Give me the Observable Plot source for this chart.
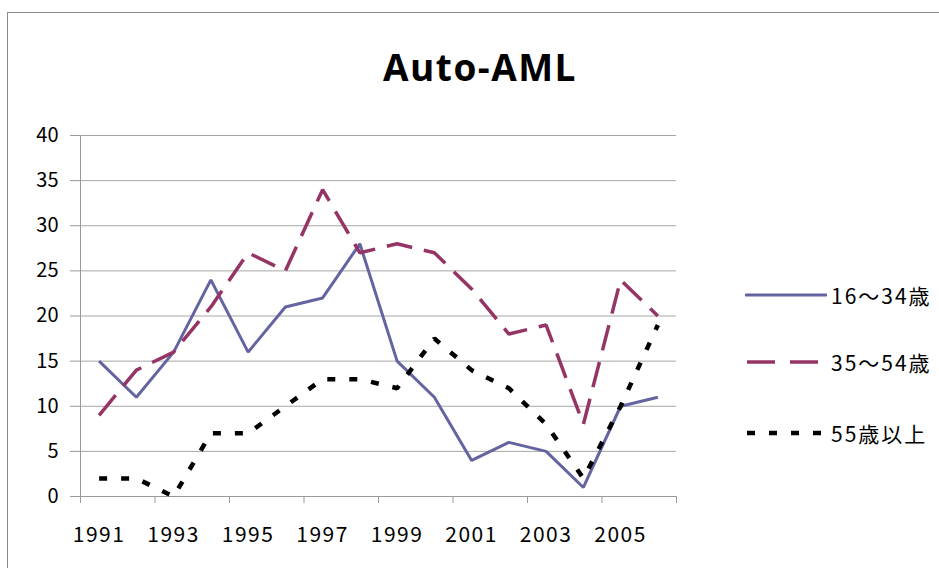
<!DOCTYPE html>
<html>
<head>
<meta charset="utf-8">
<script src="https://cdn.jsdelivr.net/npm/d3@7"></script>
<script src="https://cdn.jsdelivr.net/npm/@observablehq/plot@0.6"></script>
<style>
  html, body { margin: 0; padding: 0; background: #fff; }
  #wrap { position: relative; width: 939px; height: 568px; overflow: hidden; font-family: "Noto Sans CJK JP", "Noto Sans", sans-serif; }
  #border { position: absolute; left: 7px; top: 12px; width: 1000px; height: 700px; border: 1px solid #8c8c8c; box-sizing: border-box; }
  #title { position: absolute; left: 0; width: 960px; top: 42px; text-align: center; font-family: "Open Sans", sans-serif; font-weight: 700; font-size: 37px; letter-spacing: 1.5px; color: #000; line-height: 50px; }
  #plot { position: absolute; left: 0; top: 0; }
  #legend { position: absolute; left: 745px; top: 0; }
  .item { position: absolute; left: 0; display: flex; align-items: center; white-space: nowrap; font-size: 21px; letter-spacing: 2px; color: #000; height: 30px; }
  .item svg { display: block; margin-right: 4px; }
  g[aria-label="x-axis tick label"] text { letter-spacing: 1.5px; }
</style>
</head>
<body>
<div id="wrap">
  <div id="border"></div>
  <div id="title">Auto-AML</div>
  <div id="plot"></div>
  <div id="legend"></div>
</div>
<script>
const years = [1991,1992,1993,1994,1995,1996,1997,1998,1999,2000,2001,2002,2003,2004,2005,2006];
const age16_34 = [15,11,16,24,16,21,22,28,15,11,4,6,5,1,10,11];
const age35_54 = [9,14,16,21,27,25,34,27,28,27,23,18,19,8,24,20];
const age55up  = [2,2,0,7,7,10,13,13,12,17.5,14,12,8,2,10,19];
const seriesNames = ["16〜34歳","35〜54歳","55歳以上"];
const seriesValues = [age16_34, age35_54, age55up];
const seriesColors = ["#6464a0","#953565","#000000"];
const seriesDash = [null, "26,12", "8,14"];
const seriesWidth = [3, 3.5, 4.5];
const xTickLabels = [1991,1993,1995,1997,1999,2001,2003,2005];
const yTicks = [0,5,10,15,20,25,30,35,40];

const lineMarks = seriesValues.map((vals, i) =>
  Plot.line(years.map((y, j) => ({year: y, value: vals[j]})), {
    x: "year", y: "value",
    stroke: seriesColors[i],
    strokeWidth: seriesWidth[i],
    strokeDasharray: seriesDash[i],
    strokeLinejoin: "miter",
    strokeLinecap: "butt"
  })
);

const chart = Plot.plot({
  width: 939,
  height: 568,
  marginLeft: 80,
  marginRight: 263,
  marginTop: 135,
  marginBottom: 72,
  style: {fontFamily: '"Noto Sans CJK JP", "Noto Sans", sans-serif', background: "transparent", color: "#000"},
  x: {domain: [years[0] - 0.5, years[years.length - 1] + 0.5], label: null},
  y: {domain: [0, 40], label: null},
  marks: [
    Plot.gridY(yTicks, {stroke: "#a6a6a6", strokeOpacity: 1, strokeWidth: 1}),
    Plot.axisY({ticks: yTicks, tickSize: 10, tickPadding: 12, fontSize: 20, stroke: "#999", tickFormat: d => String(d), color: "#000", label: null}),
    Plot.axisX({ticks: d3.range(years[0] - 0.5, years[years.length - 1] + 1, 2), tickSize: 7, tickFormat: () => "", stroke: "#999", label: null}),
    Plot.axisX({ticks: xTickLabels, tickSize: 0, tickPadding: 31, fontSize: 21, tickFormat: d => String(d), color: "#000", label: null}),
    Plot.ruleY([0], {stroke: "#999", strokeWidth: 1}),
    Plot.ruleX([years[0] - 0.5], {stroke: "#999", strokeWidth: 1}),
    ...lineMarks
  ]
});
document.getElementById("plot").appendChild(chart);

// legend
const legend = document.getElementById("legend");
const legendTops = [280, 347, 418];
seriesNames.forEach((name, i) => {
  const item = document.createElement("div");
  item.className = "item";
  item.style.top = legendTops[i] + "px";
  const svgNS = "http://www.w3.org/2000/svg";
  const svg = document.createElementNS(svgNS, "svg");
  svg.setAttribute("width", 82);
  svg.setAttribute("height", 10);
  const ln = document.createElementNS(svgNS, "line");
  ln.setAttribute("x1", i === 0 ? 1 : 2);
  ln.setAttribute("x2", 81);
  ln.setAttribute("y1", 5);
  ln.setAttribute("y2", 5);
  ln.setAttribute("stroke", seriesColors[i]);
  ln.setAttribute("stroke-width", seriesWidth[i]);
  ln.setAttribute("stroke-linecap", i === 0 ? "round" : "butt");
  if (i === 1) ln.setAttribute("stroke-dasharray", "28,15");
  if (i === 2) ln.setAttribute("stroke-dasharray", "8,14");
  svg.appendChild(ln);
  item.appendChild(svg);
  const span = document.createElement("span");
  span.textContent = name;
  item.appendChild(span);
  legend.appendChild(item);
});
</script>
</body>
</html>
